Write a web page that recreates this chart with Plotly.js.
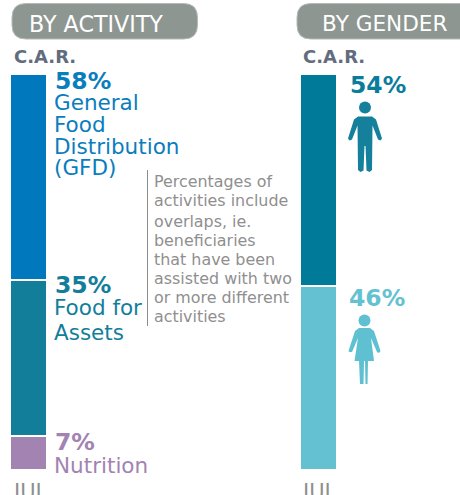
<!DOCTYPE html>
<html>
<head>
<meta charset="utf-8">
<script src="https://cdn.plot.ly/plotly-3.0.1.min.js"></script>
<style>html,body{margin:0;padding:0;background:#fff;overflow:hidden}#c{width:460px;height:495px}</style>
</head>
<body>
<div id="c"></div>
<script>
const W = 460, H = 495;
const activityNames = ['General Food Distribution (GFD)', 'Food for Assets', 'Nutrition'];
const activityLabels = ['58%', '35%', '7%'];
const activityDrawn = [52.1, 39.4, 8.5];
const activityColors = ['#0078bd', '#127e9a', '#a283b2'];
const genderNames = ['Male', 'Female'];
const genderLabels = ['54%', '46%'];
const genderDrawn = [53.5, 46.5];
const genderColors = ['#007a99', '#64c1d2'];

const px = x => x / W, py = y => 1 - y / H;
const sep = {color: '#ffffff', width: 2};
const traces = [];
activityDrawn.forEach((v, i) => traces.push({
  type: 'bar', x: ['C.A.R.'], y: [v], name: activityNames[i], xaxis: 'x', yaxis: 'y',
  marker: {color: activityColors[i], line: sep}, hoverinfo: 'name+y', width: 1
}));
genderDrawn.forEach((v, i) => traces.push({
  type: 'bar', x: ['C.A.R.'], y: [v], name: genderNames[i], xaxis: 'x2', yaxis: 'y',
  marker: {color: genderColors[i], line: sep}, hoverinfo: 'name+y', width: 1
}));

function txt(x, y, text, size, color, bold) {
  return {xref: 'paper', yref: 'paper', x: px(x - 2), y: py(y), text: bold ? '<b>' + text + '</b>' : text,
    showarrow: false, xanchor: 'left', yanchor: 'middle', align: 'left',
    font: {family: 'DejaVu Sans', size, color}};
}
const P = (x, y) => px(x) + ',' + py(y);
function pill(x0, y0, x1, y1, r) {
  return {type: 'path', xref: 'paper', yref: 'paper', fillcolor: '#8e9692', line: {color: '#b4bab7', width: 1},
    path: 'M' + P(x0 + r, y0) + ' L' + P(x1 - r, y0) + ' Q' + P(x1, y0) + ' ' + P(x1, y0 + r) +
      ' L' + P(x1, y1 - r) + ' Q' + P(x1, y1) + ' ' + P(x1 - r, y1) +
      ' L' + P(x0 + r, y1) + ' Q' + P(x0, y1) + ' ' + P(x0, y1 - r) +
      ' L' + P(x0, y0 + r) + ' Q' + P(x0, y0) + ' ' + P(x0 + r, y0) + ' Z'};
}
function poly(pts, color) {
  return {type: 'path', xref: 'paper', yref: 'paper', fillcolor: color, line: {width: 0},
    path: 'M' + pts.map(p => P(p[0], p[1])).join(' L') + ' Z'};
}
function circle(cx, cy, r, color) {
  return {type: 'circle', xref: 'paper', yref: 'paper', x0: px(cx - r), x1: px(cx + r), y0: py(cy + r), y1: py(cy - r),
    fillcolor: color, line: {width: 0}};
}
const man = '#15809c', woman = '#5fc0d1';
const shapes = [
  pill(12, 3.5, 197.5, 39, 14),
  pill(297, 3.5, 480, 39, 14),
  {type: 'line', xref: 'paper', yref: 'paper', x0: px(147.5), x1: px(147.5), y0: py(170), y1: py(326), line: {color: '#8c8c8c', width: 1}},
  circle(365, 107.5, 6, man),
  poly([[358,116.5],[372,116.5],[376,119.5],[382,138.5],[380.5,140.5],[378,139.5],[372.5,125.5],[372,170],[369.5,172],[366.5,170.5],[365.5,146],[364.5,146],[363.5,170.5],[360.5,172],[358,170],[357.5,125.5],[352,139.5],[349.5,140.5],[348,138.5],[354,119.5]], man),
  circle(364.5, 320.5, 6, woman),
  poly([[359,328],[370,328],[374,331],[380.5,351],[379,353],[377,352],[371,338],[374,361],[368,361],[367.5,384],[365.5,384],[365,361],[364,361],[363.5,384],[360,384],[359,361],[354.5,361],[358,338],[352,352],[349.5,352],[348.5,351],[355,331]], woman)
];
const grey = '#8f8f8f';
const annotations = [
  txt(29, 24, 'BY ACTIVITY', 22.2, '#ffffff'),
  txt(322, 24, 'BY GENDER', 21.6, '#ffffff'),
  txt(14, 56, 'C.A.R.', 18, '#626c7e', true),
  txt(303, 56, 'C.A.R.', 18, '#626c7e', true),
  txt(55, 81, activityLabels[0], 23.5, '#0a7dbd', true),
  txt(54, 102.5, 'General', 21.5, '#0a7dbd'),
  txt(54, 124, 'Food', 21.5, '#0a7dbd'),
  txt(54, 146, 'Distribution', 21.5, '#0a7dbd'),
  txt(54, 167.5, '(GFD)', 21.5, '#0a7dbd'),
  txt(55, 285, activityLabels[1], 23.5, '#127e9a', true),
  txt(54, 307, 'Food for', 21.5, '#127e9a'),
  txt(54, 332, 'Assets', 21.5, '#127e9a'),
  txt(55, 442, activityLabels[2], 23.5, '#a283b2', true),
  txt(54, 465, 'Nutrition', 21.5, '#a283b2'),
  txt(350, 85, genderLabels[0], 23.5, '#0a7d9b', true),
  txt(349, 298, genderLabels[1], 23.5, '#64c1d2', true),
  txt(154, 182, 'Percentages of', 15.9, grey),
  txt(154, 201, 'activities include', 15.9, grey),
  txt(154, 221, 'overlaps, ie.', 15.9, grey),
  txt(154, 240, 'beneficiaries', 15.9, grey),
  txt(154, 259, 'that have been', 15.9, grey),
  txt(154, 278, 'assisted with two', 15.9, grey),
  txt(154, 297, 'or more different', 15.9, grey),
  txt(154, 316, 'activities', 15.9, grey),
  txt(12, 492, 'JUL', 21, grey),
  txt(301, 492, 'JUL', 21, grey)
];
const hidden = {showgrid: false, zeroline: false, showticklabels: false, ticks: '', showline: false};
const layout = {
  width: W, height: H, margin: {l: 0, r: 0, t: 0, b: 0}, paper_bgcolor: '#fff', plot_bgcolor: 'rgba(0,0,0,0)',
  showlegend: false, barmode: 'stack', bargap: 0,
  xaxis: Object.assign({domain: [px(10), px(47)], type: 'category'}, hidden),
  xaxis2: Object.assign({domain: [px(300), px(337)], type: 'category', anchor: 'y'}, hidden),
  yaxis: Object.assign({domain: [py(470), py(74)], range: [100, 0]}, hidden),
  shapes, annotations
};
Plotly.newPlot('c', traces, layout, {displayModeBar: false, staticPlot: true});
</script>
</body>
</html>
